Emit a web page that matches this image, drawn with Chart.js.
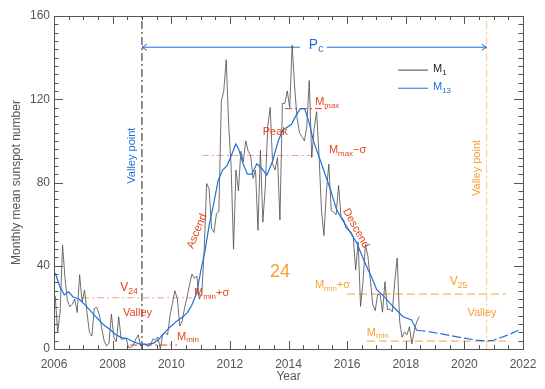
<!DOCTYPE html>
<html>
<head>
<meta charset="utf-8">
<script src="https://cdn.jsdelivr.net/npm/chart.js@4.4.0/dist/chart.umd.min.js"></script>
<style>
html, body { margin: 0; padding: 0; background: #fff; }
#caixa { width: 545px; height: 389px; }
</style>
</head>
<body>
<div id="caixa"><canvas id="graficoManchas"></canvas></div>
<script>
// M1: media mensal, jan/2006 a jun/2018
const anoInicial = 2006;
const m1Valores = [
    25.5, 8, 17.7, 50, 34, 23.2, 20.3, 21.5, 24.0, 17.5, 35.7, 22.7,
    28.2, 17.7, 8.0, 6.2, 19.5, 20.0, 16.7, 10.3, 4.0, 1.5, 2.8, 16.8,
    5.5, 3.5, 15.5, 4.8, 4.8, 5.2, 0.8, 0.8, 1.8, 4.8, 6.8, 1.3,
    2.5, 2.3, 1.2, 2.0, 4.8, 4.3, 5.8, 0.0, 7.2, 8.0, 6.8, 16.0,
    22, 28, 24, 11, 13.5, 20, 25, 31, 36, 34, 35, 24,
    27, 48, 79.5, 77, 58, 56, 65, 66, 119, 124, 139, 108,
    88, 48, 86, 76, 95, 90, 100, 95, 93, 82, 86, 57,
    95.5, 61, 78, 107, 116, 89, 86, 92, 62, 118, 118, 124,
    116, 146, 126, 111, 104, 102, 100, 107, 129, 92, 106, 114,
    93, 66.7, 54.5, 75.3, 88.8, 66.5, 65.8, 64.4, 78.6, 63.6, 62.2, 58.0,
    57.0, 56.4, 54.1, 37.9, 51.5, 20.5, 32.4, 50.2, 44.6, 33.4, 21.4, 18.5,
    26.1, 26.4, 17.7, 32.3, 18.9, 19.2, 17.8, 32.6, 43.7, 13.2, 5.7, 8.2,
    6.8, 10.7, 2.5, 8.9, 13.1, 15.6
];

// M13: media suavizada de 13 meses
const m13Anos = [2006.04, 2006.2, 2006.35, 2006.5, 2006.65, 2006.85, 2007.0, 2007.2, 2007.46, 2007.7,
    2007.9, 2008.1, 2008.3, 2008.5, 2008.7, 2008.96, 2009.2, 2009.4, 2009.55, 2009.75,
    2009.96, 2010.2, 2010.4, 2010.55, 2010.7, 2010.87, 2011.0, 2011.15, 2011.3, 2011.45,
    2011.6, 2011.75, 2011.9, 2012.05, 2012.2, 2012.3, 2012.45, 2012.6, 2012.75, 2012.92,
    2013.1, 2013.26, 2013.45, 2013.65, 2013.8, 2013.95, 2014.1, 2014.25, 2014.4, 2014.55,
    2014.7, 2014.85, 2015.0, 2015.2, 2015.42, 2015.64, 2015.8, 2015.99, 2016.15, 2016.33,
    2016.5, 2016.67, 2016.85, 2017.01, 2017.2, 2017.46, 2017.7, 2017.91, 2018.2, 2018.37];
const m13Valores = [36.5, 30, 26, 27.5, 25, 24, 22, 19, 15, 11.5,
    9.5, 7, 5.5, 5, 3.5, 2.2, 2.3, 2.8, 4.3, 7.5,
    10.6, 13.5, 15.5, 17.5, 21, 27, 37, 47, 60, 70,
    81, 86, 88, 93, 98.5, 96, 89, 84, 84, 89,
    86.5, 83.5, 90, 100, 105, 106.5, 108, 112, 115.5, 115.5,
    109, 100, 94, 86, 77, 67, 63, 58.7, 55, 51,
    45, 39.5, 34, 28.5, 26, 22, 18.5, 15.5, 14, 9];

// previsao (tracejada) ate o proximo vale
const previsaoAnos = [2018.37, 2018.7, 2019.05, 2019.5, 2019.95, 2020.4, 2020.76, 2021.0, 2021.2, 2021.5, 2021.85];
const previsaoValores = [9, 8.5, 7.7, 6.5, 5.3, 4.3, 3.8, 4.2, 5.3, 6.8, 9];

// niveis de referencia
const valePonto24 = 2009.0;
const valePonto25 = 2020.76;
const nivelPc = 145;
const nivelMmax = 115.5;
const nivelMmaxSigma = 93;
const nivelV24 = 24.6;
const nivelMminEsq = 1.9;
const nivelV25 = 26.4;
const nivelMminDir = 3.8;

const anoMin = 2006, anoMax = 2022;
const valorMin = 0, valorMax = 160;

const vermelho = '#e5461c';
const salmao = '#f2a284';
const laranja = '#f7a034';
const laranjaClaro = '#ffc88c';
const azul = '#1f6fdc';
const cinza = '#555';
const fonteBase = '"Liberation Sans", Arial, sans-serif';

function linhaRef(x1, x2, y1, y2, cor, traco){
    return {
        data: [{x: x1, y: y1}, {x: x2, y: y2}],
        borderColor: cor,
        borderWidth: 1,
        borderDash: traco,
        pointRadius: 0,
        fill: false
    };
}

const tracoPonto = [7, 3, 2, 3];
const tracejado = [8, 4];

const textos = [
    {t: 'Peak', x: 2013.55, y: 104.3, cor: vermelho, al: 'center'},
    {t: 'M_{max}', x: 2014.91, y: 118.7, cor: vermelho, al: 'left'},
    {t: 'M_{max}−σ', x: 2015.38, y: 95.5, cor: vermelho, al: 'left'},
    {t: 'V_{24}', x: 2008.56, y: 29.3, cor: vermelho, al: 'center', tam: 12},
    {t: 'Valley', x: 2008.85, y: 17.3, cor: vermelho, al: 'center'},
    {t: 'M_{min}+σ', x: 2010.78, y: 26.9, cor: vermelho, al: 'left'},
    {t: 'M_{min}', x: 2010.2, y: 5.9, cor: vermelho, al: 'left'},
    {t: '24', x: 2013.71, y: 37, cor: laranja, al: 'center', tam: 18},
    {t: 'M_{min}+σ', x: 2014.9, y: 30.7, cor: laranja, al: 'left'},
    {t: 'V_{25}', x: 2019.8, y: 32.3, cor: laranja, al: 'center', tam: 12},
    {t: 'Valley', x: 2020.6, y: 17.4, cor: laranja, al: 'center'},
    {t: 'M_{min}', x: 2016.67, y: 7.8, cor: laranja, al: 'left'},
    {t: 'P_{c}', x: 2014.94, y: 146, cor: azul, al: 'center', tam: 14},
    {t: 'Valley point', x: 2008.66, y: 92.9, cor: azul, al: 'center', ang: -90},
    {t: 'Valley point', x: 2020.43, y: 87, cor: laranja, al: 'center', ang: -90},
    {t: 'Ascend', x: 2010.88, y: 56.6, cor: vermelho, al: 'center', ang: -68},
    {t: 'Descend', x: 2016.3, y: 58, cor: vermelho, al: 'center', ang: 61}
];

function escreverTexto(ctx, texto, x, y, tam, alinhar){
    const partes = texto.split(/_\{|\}/);
    const tamIndice = tam * 0.72;
    let largura = 0;
    partes.forEach((p, i) => {
        ctx.font = (i % 2 ? tamIndice : tam) + 'px ' + fonteBase;
        largura += ctx.measureText(p).width;
    });
    let cx = alinhar === 'center' ? x - largura / 2 : x;
    partes.forEach((p, i) => {
        const indice = i % 2 === 1;
        ctx.font = (indice ? tamIndice : tam) + 'px ' + fonteBase;
        ctx.fillText(p, cx, indice ? y + tam * 0.32 : y);
        cx += ctx.measureText(p).width;
    });
}

const molduraPlugin = {
    id: 'moldura',
    afterDraw(chart){
        const ctx = chart.ctx;
        const a = chart.chartArea;
        const sx = chart.scales.x;
        const sy = chart.scales.y;
        ctx.save();

        // caixa e marcas para dentro
        ctx.strokeStyle = cinza;
        ctx.lineWidth = 1;
        ctx.strokeRect(Math.round(a.left) + 0.5, Math.round(a.top) + 0.5,
            Math.round(a.right - a.left), Math.round(a.bottom - a.top));
        ctx.beginPath();
        for(let v = anoMin; v <= anoMax; v += 0.5){
            const px = Math.round(sx.getPixelForValue(v)) + 0.5;
            const len = ((v - anoMin) % 2 === 0) ? 8 : 4;
            ctx.moveTo(px, a.bottom); ctx.lineTo(px, a.bottom - len);
            ctx.moveTo(px, a.top); ctx.lineTo(px, a.top + len);
        }
        for(let v = valorMin; v <= valorMax; v += 4){
            const py = Math.round(sy.getPixelForValue(v)) + 0.5;
            const len = (v % 40 === 0) ? 9 : 4.5;
            ctx.moveTo(a.left, py); ctx.lineTo(a.left + len, py);
            ctx.moveTo(a.right, py); ctx.lineTo(a.right - len, py);
        }
        ctx.stroke();

        // setas do Pc
        const yPc = sy.getPixelForValue(nivelPc);
        const xa = sx.getPixelForValue(valePonto24);
        const xb = sx.getPixelForValue(valePonto25);
        ctx.strokeStyle = azul;
        ctx.beginPath();
        ctx.moveTo(xa + 5, yPc - 3); ctx.lineTo(xa, yPc); ctx.lineTo(xa + 5, yPc + 3);
        ctx.moveTo(xb - 5, yPc - 3); ctx.lineTo(xb, yPc); ctx.lineTo(xb - 5, yPc + 3);
        ctx.stroke();

        // legenda
        const lx1 = sx.getPixelForValue(2017.74);
        const lx2 = sx.getPixelForValue(2018.76);
        const lt = sx.getPixelForValue(2018.93);
        const ly1 = sy.getPixelForValue(134);
        const ly2 = sy.getPixelForValue(125.3);
        ctx.lineWidth = 1;
        ctx.strokeStyle = '#444';
        ctx.beginPath(); ctx.moveTo(lx1, ly1); ctx.lineTo(lx2, ly1); ctx.stroke();
        ctx.strokeStyle = azul;
        ctx.beginPath(); ctx.moveTo(lx1, ly2); ctx.lineTo(lx2, ly2); ctx.stroke();
        ctx.textBaseline = 'middle';
        ctx.fillStyle = '#222';
        escreverTexto(ctx, 'M_{1}', lt, ly1 - 1, 11, 'left');
        ctx.fillStyle = azul;
        escreverTexto(ctx, 'M_{13}', lt, ly2 - 1, 11, 'left');

        // anotacoes
        textos.forEach(item => {
            const px = sx.getPixelForValue(item.x);
            const py = sy.getPixelForValue(item.y);
            ctx.fillStyle = item.cor;
            ctx.save();
            ctx.translate(px, py);
            if(item.ang){
                ctx.rotate(item.ang * Math.PI / 180);
            }
            escreverTexto(ctx, item.t, 0, 0, item.tam || 11, item.ang ? 'center' : item.al);
            ctx.restore();
        });
        ctx.restore();
    }
};

const m1Dados = m1Valores.map((v, i) => ({x: anoInicial + (i + 0.5) / 12, y: v}));
const m13Dados = m13Anos.map((ano, i) => ({x: ano, y: m13Valores[i]}));
const previsaoDados = previsaoAnos.map((ano, i) => ({x: ano, y: previsaoValores[i]}));

const grafico = new Chart(document.getElementById('graficoManchas'), {
    type: 'line',
    data: {
        datasets: [
            {data: m13Dados, borderColor: azul, borderWidth: 1.2, pointRadius: 0, fill: false},
            {data: previsaoDados, borderColor: azul, borderWidth: 1.2, borderDash: [9, 3], pointRadius: 0, fill: false},
            {data: m1Dados, borderColor: '#4a4a4a', borderWidth: 0.8, pointRadius: 0, fill: false},
            linhaRef(2013.88, 2015.42, nivelMmax, nivelMmax, vermelho, tracoPonto),
            linhaRef(2011.04, 2014.96, nivelMmaxSigma, nivelMmaxSigma, salmao, tracoPonto),
            linhaRef(2006.96, 2010.71, nivelV24, nivelV24, salmao, tracoPonto),
            linhaRef(2008.6, 2010.2, nivelMminEsq, nivelMminEsq, vermelho, tracoPonto),
            linhaRef(2015.99, 2021.42, nivelV25, nivelV25, laranja, tracejado),
            linhaRef(2016.67, 2021.42, nivelMminDir, nivelMminDir, laranja, tracejado),
            linhaRef(valePonto24, valePonto24, valorMin, valorMax, '#222', [8, 3, 2, 3]),
            linhaRef(valePonto25, valePonto25, valorMin, valorMax, laranjaClaro, [8, 3, 2, 3]),
            linhaRef(valePonto24, 2014.39, nivelPc, nivelPc, azul, []),
            linhaRef(2015.31, valePonto25, nivelPc, nivelPc, azul, [])
        ]
    },
    options: {
        responsive: true,
        maintainAspectRatio: false,
        animation: false,
        layout: { padding: { top: 16, right: 22, left: 0, bottom: 0 } },
        plugins: { legend: { display: false }, tooltip: { enabled: false } },
        scales: {
            x: {
                type: 'linear',
                min: anoMin,
                max: anoMax,
                grid: { display: false, drawTicks: false },
                border: { display: false },
                ticks: {
                    stepSize: 2,
                    padding: 8,
                    color: cinza,
                    font: { size: 12, family: fonteBase },
                    maxRotation: 0,
                    callback: v => v
                },
                title: {
                    display: true,
                    text: 'Year',
                    color: cinza,
                    font: { size: 12, family: fonteBase },
                    padding: { top: 0, bottom: 5 }
                },
                afterFit(escala){ escala.height = 40; }
            },
            y: {
                min: valorMin,
                max: valorMax,
                grid: { display: false, drawTicks: false },
                border: { display: false },
                ticks: {
                    stepSize: 40,
                    padding: 4,
                    color: cinza,
                    font: { size: 12, family: fonteBase }
                },
                title: {
                    display: true,
                    text: 'Monthly mean sunspot number',
                    color: cinza,
                    font: { size: 12, family: fonteBase },
                    padding: { top: 9, bottom: 0 }
                },
                afterFit(escala){ escala.width = 54; }
            }
        }
    },
    plugins: [molduraPlugin]
});
</script>
</body>
</html>
